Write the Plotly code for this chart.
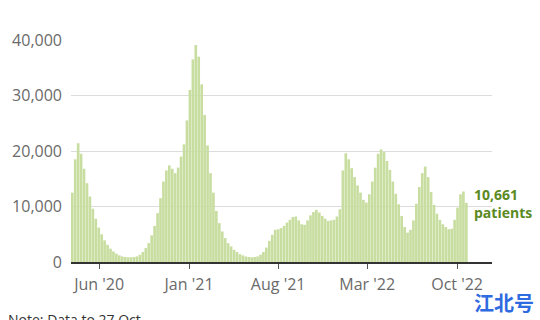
import datetime as dt
import plotly.graph_objects as go

# Weekly number of patients in hospital with Covid (UK)
start_date = dt.date(2020, 3, 29)
patients = [
    12500, 18500, 21400, 19500, 16800, 14200, 11800, 9600, 7800, 6200,
    5000, 3900, 3100, 2400, 1900, 1500, 1200, 1000, 900, 850,
    850, 900, 1000, 1300, 1800, 2500, 3400, 4800, 6500, 8800,
    11500, 14500, 16500, 17400, 16800, 16000, 17000, 19000, 21200, 25500,
    31000, 36500, 39100, 37000, 32000, 26500, 21000, 16000, 12500, 9200,
    7000, 5500, 4300, 3400, 2800, 2200, 1800, 1400, 1200, 1000,
    900, 850, 900, 1000, 1300, 1800, 2600, 3800, 4900, 5800,
    5900, 6100, 6500, 7100, 7600, 8100, 8200, 7500, 6800, 6700,
    7500, 8400, 9000, 9400, 8900, 8300, 7800, 7400, 7500, 7600,
    8200, 9500, 16500, 19600, 18500, 16900, 15300, 13800, 12500, 11200,
    10700, 12200, 14500, 17000, 19500, 20300, 19800, 18200, 16600, 14500,
    12300, 10400, 8300, 6300, 5300, 5800, 7500, 10500, 13500, 16000,
    17200, 15300, 12600, 10300, 8700, 7600, 6800, 6300, 5900, 6000,
    7600, 9800, 12200, 12700, 10661,
]
dates = [start_date + dt.timedelta(days=7 * i) for i in range(len(patients))]

tick_dates = ["2020-06-01", "2021-01-01", "2021-08-01", "2022-03-01", "2022-10-01"]
tick_labels = ["Jun '20", "Jan '21", "Aug '21", "Mar '22", "Oct '22"]
y_ticks = [0, 10000, 20000, 30000, 40000]
y_labels = ["0", "10,000", "20,000", "30,000", "40,000"]

latest_value = "10,661"
latest_unit = "patients"

fig = go.Figure(
    go.Bar(
        x=dates,
        y=patients,
        marker=dict(color="#c8dda0", line=dict(width=0)),
        hoverinfo="skip",
    )
)

fig.update_layout(
    width=540,
    height=320,
    margin=dict(l=69, r=48, t=40, b=58),
    paper_bgcolor="white",
    plot_bgcolor="white",
    bargap=0.1,
    showlegend=False,
    font=dict(family="Open Sans", color="#5f5f5f", size=16),
)

fig.update_xaxes(
    type="date",
    range=["2020-03-26", "2022-12-23"],
    tickvals=tick_dates,
    ticktext=tick_labels,
    ticks="outside",
    ticklen=5,
    tickwidth=1,
    tickcolor="#555555",
    showgrid=False,
    showline=True,
    linecolor="#333333",
    linewidth=2,
    tickfont=dict(size=16, color="#6a6a6a"),
    ticklabelstandoff=2,
    zeroline=False,
)

fig.update_yaxes(
    range=[0, 40000],
    tickvals=y_ticks,
    ticktext=y_labels,
    showgrid=True,
    gridcolor="#dcdcdc",
    gridwidth=1,
    zeroline=False,
    showline=False,
    ticks="",
    tickfont=dict(size=16, color="#6a6a6a"),
    ticklabelstandoff=8,
)

fig.add_annotation(
    xref="paper", yref="y", x=0.9527, y=12100,
    text="<b>" + latest_value + "</b>", showarrow=False,
    xanchor="left", yanchor="middle",
    font=dict(family="Open Sans", size=14, color="#5b8a1f"),
)
fig.add_annotation(
    xref="paper", yref="y", x=0.9527, y=9000,
    text="<b>" + latest_unit + "</b>", showarrow=False,
    xanchor="left", yanchor="middle",
    font=dict(family="Open Sans", size=14, color="#5b8a1f"),
)

# Footnote, cut by the lower edge
fig.add_annotation(
    xref="paper", yref="paper", x=-0.155, y=-0.205,
    text="Note: Data to 27 Oct", showarrow=False,
    xanchor="left", yanchor="top",
    font=dict(family="Open Sans", size=14, color="#333333"),
)

# Watermark
fig.add_annotation(
    xref="paper", yref="paper", x=1.105, y=-0.11,
    text="<b>江北号</b>", showarrow=False,
    xanchor="right", yanchor="top",
    font=dict(family="Noto Sans CJK SC", size=20, color="#2f6be0"),
)

fig.write_html("out.html")
